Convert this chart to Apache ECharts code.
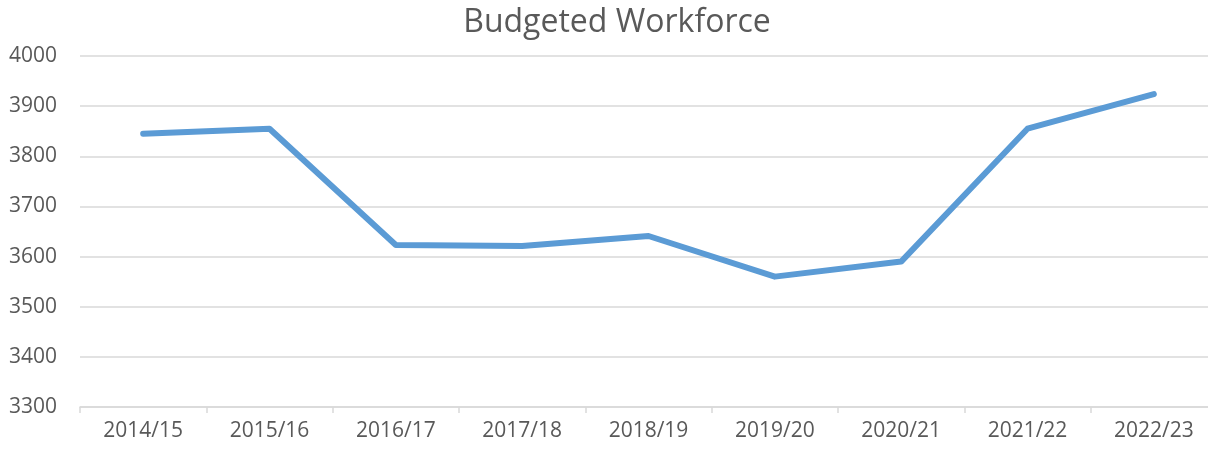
<!DOCTYPE html>
<html>
<head>
<meta charset="utf-8">
<script src="https://cdn.jsdelivr.net/npm/echarts@6/dist/echarts.min.js"></script>
<style>
  html, body { margin: 0; padding: 0; background: #fff; }
  #chart { width: 1208px; height: 449px; }
</style>
</head>
<body>
<div id="chart"></div>
<script>
var years = ['2014/15', '2015/16', '2016/17', '2017/18', '2018/19', '2019/20', '2020/21', '2021/22', '2022/23'];
var workforce = [3845, 3855, 3623, 3621, 3641, 3560, 3590, 3855, 3924];
var yTicks = { min: 3300, max: 4000, step: 100 };

var font = '"Open Sans", Lato, sans-serif';
var myChart = echarts.init(document.getElementById('chart'));

myChart.setOption({
  animation: false,
  title: {
    text: 'Budgeted Workforce',
    left: 612,
    top: 2,
    textAlign: 'center',
    textStyle: { fontFamily: font, fontSize: 32, fontWeight: 'normal', color: '#595959' }
  },
  // plot runs a little past the right edge, as in the cropped original
  grid: { left: 80, width: 1137, top: 56, bottom: 42, outerBoundsMode: 'none' },
  xAxis: {
    type: 'category',
    data: years,
    boundaryGap: true,
    axisLine: { lineStyle: { color: '#d9d9d9', width: 1.5 } },
    axisTick: { show: true, length: 6, lineStyle: { color: '#d9d9d9', width: 1.5 } },
    axisLabel: { margin: 14, fontFamily: font, fontSize: 21, color: '#595959' }
  },
  yAxis: {
    type: 'value',
    min: yTicks.min,
    max: yTicks.max,
    interval: yTicks.step,
    axisLine: { show: false },
    axisTick: { show: false },
    splitLine: { lineStyle: { color: '#d9d9d9', width: 1.5 } },
    axisLabel: {
      margin: 23, fontFamily: font, fontSize: 21, color: '#595959',
      formatter: function (v) { return String(v); }
    }
  },
  series: [{
    type: 'line',
    data: workforce,
    symbol: 'none',
    lineStyle: { color: '#5b9bd5', width: 6, cap: 'round', join: 'round' }
  }]
});
</script>
</body>
</html>
